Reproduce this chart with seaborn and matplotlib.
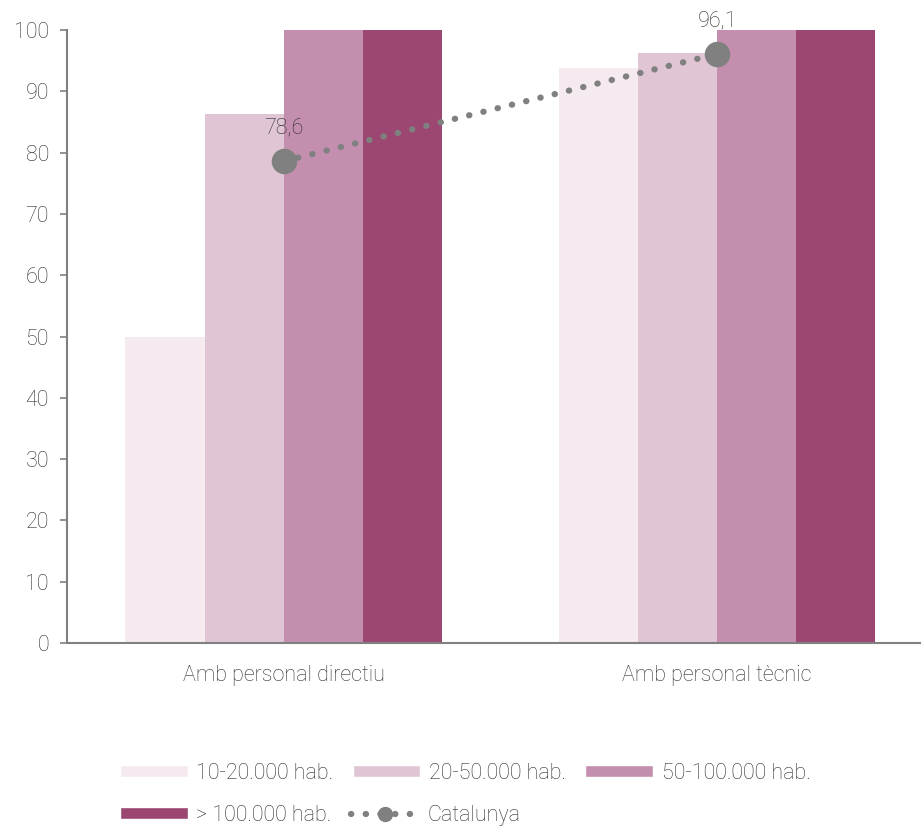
import matplotlib.pyplot as plt
import pandas as pd
import seaborn as sns
from matplotlib.lines import Line2D
from matplotlib.patches import Patch

# Dades
categories = ['Amb personal directiu', 'Amb personal tècnic']
trams = ['10-20.000 hab.', '20-50.000 hab.', '50-100.000 hab.', '> 100.000 hab.']
valors_10_20 = [50.0, 93.8]
valors_20_50 = [86.3, 96.3]
valors_50_100 = [100.0, 100.0]
valors_100 = [100.0, 100.0]
catalunya = [78.6, 96.1]
etiquetes_cat = ['78,6', '96,1']

colors = ['#F5EAF0', '#E0C6D5', '#C48FAE', '#9B4772']
gris = '#808080'
text_color = '#2e2e2e'

dades = pd.DataFrame({
    'categoria': categories * 4,
    'tram': [t for t in trams for _ in categories],
    'valor': valors_10_20 + valors_20_50 + valors_50_100 + valors_100,
})

sns.set_style('white')
plt.rcParams['font.family'] = ['Roboto', 'Liberation Sans', 'DejaVu Sans']
plt.rcParams['font.weight'] = 'light'

fig = plt.figure(figsize=(9.21, 8.26), dpi=100)
ax = fig.add_axes([0.0727, 0.2215, 0.9273, 0.7422])

sns.barplot(data=dades, x='categoria', y='valor', hue='tram', hue_order=trams,
            palette=colors, width=0.73, saturation=1, linewidth=0,
            legend=False, ax=ax)

punts = (0, (0.05, 2.3))
sns.pointplot(x=categories, y=catalunya, color=gris, markers='o',
              markersize=15, linestyle=punts, linewidth=4.5,
              dash_capstyle='round', ax=ax)

for i, (v, t) in enumerate(zip(catalunya, etiquetes_cat)):
    ax.annotate(t, (i, v), xytext=(0, 16), textcoords='offset points',
                ha='center', va='bottom', fontsize=15.5, color=text_color)

ax.set_ylim(0, 100)
ax.set_xlim(-0.5, 1.47)
ax.set_yticks(range(0, 101, 10))
ax.set_xlabel('')
ax.set_ylabel('')
for s in ['top', 'right']:
    ax.spines[s].set_visible(False)
for s in ['left', 'bottom']:
    ax.spines[s].set_color(gris)
    ax.spines[s].set_linewidth(1.5)
ax.tick_params(axis='y', left=True, length=5, width=1.2, color=gris,
               labelsize=15.5, labelcolor=text_color, pad=8)
ax.tick_params(axis='x', bottom=False, labelsize=15.5, labelcolor=text_color, pad=12)

# Llegenda
handles1 = [Patch(facecolor=c, label=t) for c, t in zip(colors[:3], trams[:3])]
handles2 = [Patch(facecolor=colors[3], label=trams[3]),
            Line2D([], [], color=gris, linestyle=punts, linewidth=4.5,
                   dash_capstyle='round', marker='o', markersize=10, label='Catalunya')]
kw = dict(frameon=False, fontsize=15.5, handlelength=3.15, handleheight=0.45,
          handletextpad=0.4, columnspacing=0.9, labelcolor=text_color,
          borderaxespad=0, borderpad=0)
fig.legend(handles=handles1, loc='center left', bbox_to_anchor=(0.13, 0.064), ncol=3, **kw)
fig.legend(handles=handles2, loc='center left', bbox_to_anchor=(0.13, 0.013), ncol=2, **kw)

fig.savefig('out.png', dpi=100)
